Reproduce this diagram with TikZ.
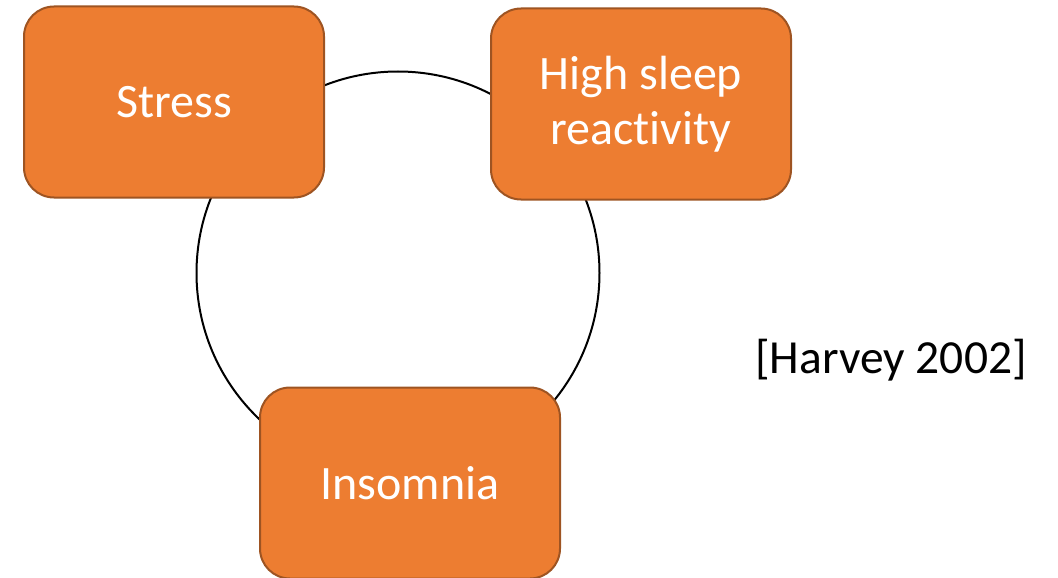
\documentclass[tikz,border=0pt]{standalone}
\usepackage{fontspec}
\setmainfont{Carlito}[Ligatures=NoCommon]
\definecolor{boxfill}{HTML}{ED7D31}
\definecolor{boxline}{HTML}{9E5422}
\begin{document}
\begin{tikzpicture}[x=1pt,y=-1pt,
  cyclebox/.style={draw=boxline, line width=2pt, fill=boxfill, rounded corners=30pt,
    minimum width=300pt, minimum height=191pt, inner sep=0pt,
    text=white, font=\fontsize{48}{55}\selectfont, align=center},
  ring/.style={draw=black, line width=2pt, circle, minimum size=403pt, inner sep=0pt}]
  \useasboundingbox (0,0) rectangle (1058,578);
  % the cycle behind the boxes
  \node[ring] (cycle) at (398,273) {};
  % the three stages
  \node[cyclebox] (stress) at (174,102) {Stress};
  \node[cyclebox] (reactivity) at (641,104) {High sleep\\reactivity};
  \node[cyclebox] (insomnia) at (410,483) {Insomnia};
  % reference
  \node[font=\fontsize{47.5}{56}\selectfont, anchor=base] (ref) at (891,373) {[Harvey 2002]};
\end{tikzpicture}
\end{document}
